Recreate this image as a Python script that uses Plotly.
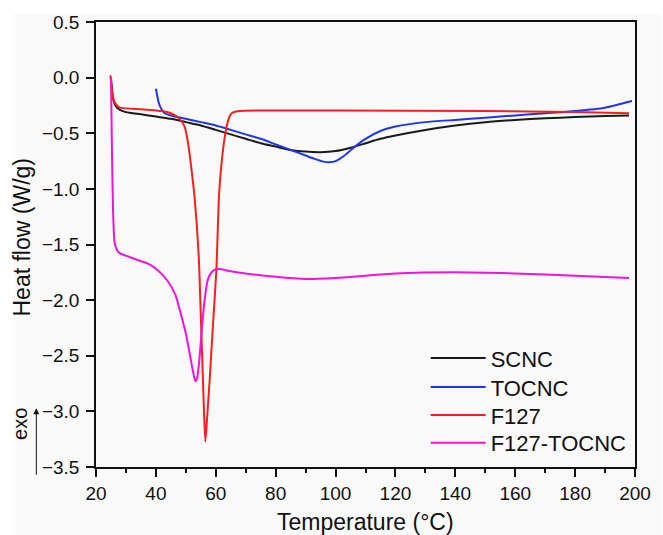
import plotly.graph_objects as go

# SCNC
scnc_x = [25, 25.5, 26, 27, 28, 30, 35, 40, 45, 50, 55, 60, 65, 70, 75, 80, 85, 90, 95, 100, 105, 110, 115, 120, 130, 140, 150, 160, 170, 180, 190, 198]
scnc_y = [0.0, -0.15, -0.22, -0.27, -0.29, -0.31, -0.33, -0.35, -0.37, -0.40, -0.43, -0.47, -0.51, -0.55, -0.59, -0.62, -0.65, -0.665, -0.67, -0.66, -0.63, -0.59, -0.55, -0.52, -0.47, -0.43, -0.40, -0.38, -0.365, -0.355, -0.345, -0.34]

# TOCNC
tocnc_x = [40, 40.5, 41, 42, 43, 45, 50, 55, 60, 65, 70, 75, 80, 85, 90, 93, 96, 98, 100, 103, 106, 110, 115, 120, 130, 140, 150, 160, 170, 180, 190, 199]
tocnc_y = [-0.10, -0.17, -0.23, -0.29, -0.32, -0.34, -0.37, -0.40, -0.43, -0.47, -0.51, -0.55, -0.60, -0.65, -0.70, -0.73, -0.755, -0.76, -0.75, -0.70, -0.63, -0.55, -0.48, -0.44, -0.40, -0.38, -0.36, -0.34, -0.32, -0.30, -0.27, -0.21]

# F127
f127_x = [24.8, 25.2, 25.6, 26, 27, 28, 32, 38, 42, 45, 47, 48.5, 49.7, 50.8, 52, 53, 54.3, 55.2, 56, 56.5, 57, 58, 59, 60.2, 61.1, 62, 63.2, 64.2, 65, 66, 68, 80, 100, 150, 180, 198]
f127_y = [0.02, -0.08, -0.16, -0.21, -0.25, -0.27, -0.28, -0.29, -0.30, -0.32, -0.35, -0.39, -0.45, -0.60, -0.85, -1.10, -1.60, -2.30, -2.95, -3.27, -3.10, -2.70, -2.25, -1.73, -1.05, -0.75, -0.50, -0.38, -0.33, -0.31, -0.30, -0.295, -0.295, -0.30, -0.31, -0.32]

# F127-TOCNC
ft_x = [25, 25.3, 25.7, 26.2, 27, 28, 31, 35, 38, 41, 44, 46.5, 48.5, 50, 51.3, 52.3, 53.2, 53.8, 54.5, 55.6, 56.5, 57.3, 58.3, 59.4, 61, 65, 70, 80, 90, 100, 110, 120, 140, 160, 180, 198]
ft_y = [0.0, -0.6, -1.2, -1.48, -1.55, -1.58, -1.61, -1.65, -1.68, -1.74, -1.83, -1.95, -2.14, -2.30, -2.48, -2.63, -2.73, -2.70, -2.54, -2.18, -1.95, -1.82, -1.76, -1.73, -1.72, -1.74, -1.76, -1.79, -1.81, -1.80, -1.78, -1.76, -1.75, -1.76, -1.78, -1.80]

series = [
    ("SCNC", scnc_x, scnc_y, "#1a1a1a"),
    ("TOCNC", tocnc_x, tocnc_y, "#1f35e8"),
    ("F127", f127_x, f127_y, "#f2201f"),
    ("F127-TOCNC", ft_x, ft_y, "#f013d8"),
]

x_ticks = [20, 40, 60, 80, 100, 120, 140, 160, 180, 200]
y_ticks = [0.5, 0.0, -0.5, -1.0, -1.5, -2.0, -2.5, -3.0, -3.5]

legend_ids = ["legend", "legend2", "legend3", "legend4"]
legend_y = [0.2444, 0.1794, 0.1166, 0.0538]

fig = go.Figure()
for (name, xs, ys, col), lid in zip(series, legend_ids):
    fig.add_trace(go.Scatter(x=xs, y=ys, mode="lines", name=name, legend=lid,
                             line=dict(color=col, width=2, shape="spline", smoothing=0.6)))

font = "Liberation Sans, Arial, sans-serif"
bg = "#f9f9f9"
legends = {}
for lid, ly in zip(legend_ids, legend_y):
    legends[lid] = dict(x=0.6116, y=ly, xanchor="left", yanchor="middle",
                        bgcolor="rgba(0,0,0,0)", font=dict(size=22), itemwidth=55)

fig.update_layout(
    width=663, height=535,
    margin=dict(l=96, r=16, t=21, b=68),
    paper_bgcolor="white", plot_bgcolor=bg,
    font=dict(family=font, size=19, color="#111"),
    showlegend=True,
    **legends,
    xaxis=dict(range=[20, 200], tickvals=x_ticks, ticks="outside", ticklen=8,
               tickwidth=1.5, tickcolor="#111", showline=True, linewidth=1.5,
               linecolor="#111", mirror=True, showgrid=False, zeroline=False,
               minor=dict(dtick=10, ticks="outside", ticklen=4, tickwidth=1.5, tickcolor="#111")),
    yaxis=dict(range=[-3.5, 0.5], tickvals=y_ticks, tickformat=".1f", ticks="outside",
               ticklen=8, tickwidth=1.5, tickcolor="#111", showline=True, linewidth=1.5,
               linecolor="#111", mirror=True, showgrid=False, zeroline=False,
               ticklabelstandoff=3),
    shapes=[dict(type="rect", xref="paper", yref="paper", layer="below",
                 x0=-0.1525, x1=1.05, y0=-0.2, y1=1.018, fillcolor=bg, line=dict(width=0))],
)

fig.add_annotation(xref="paper", yref="paper", x=0.5, y=-0.123, text="Temperature (°C)",
                   showarrow=False, xanchor="center", yanchor="middle", font=dict(size=23))
fig.add_annotation(xref="paper", yref="paper", x=-0.1379, y=0.515, text="Heat flow (W/g)",
                   showarrow=False, xanchor="center", yanchor="middle", textangle=-90,
                   font=dict(size=23))
fig.add_annotation(xref="paper", yref="paper", x=-0.1107, y=0.132, ax=0, ay=68,
                   axref="pixel", ayref="pixel", showarrow=True, arrowhead=2, arrowsize=1.2,
                   arrowwidth=1, arrowcolor="#111", text="")
fig.add_annotation(xref="paper", yref="paper", x=-0.1398, y=0.096, text="exo", showarrow=False,
                   xanchor="center", yanchor="middle",
                   textangle=-90, font=dict(size=20, family=font, color="#111"))

fig.write_html("out.html")
